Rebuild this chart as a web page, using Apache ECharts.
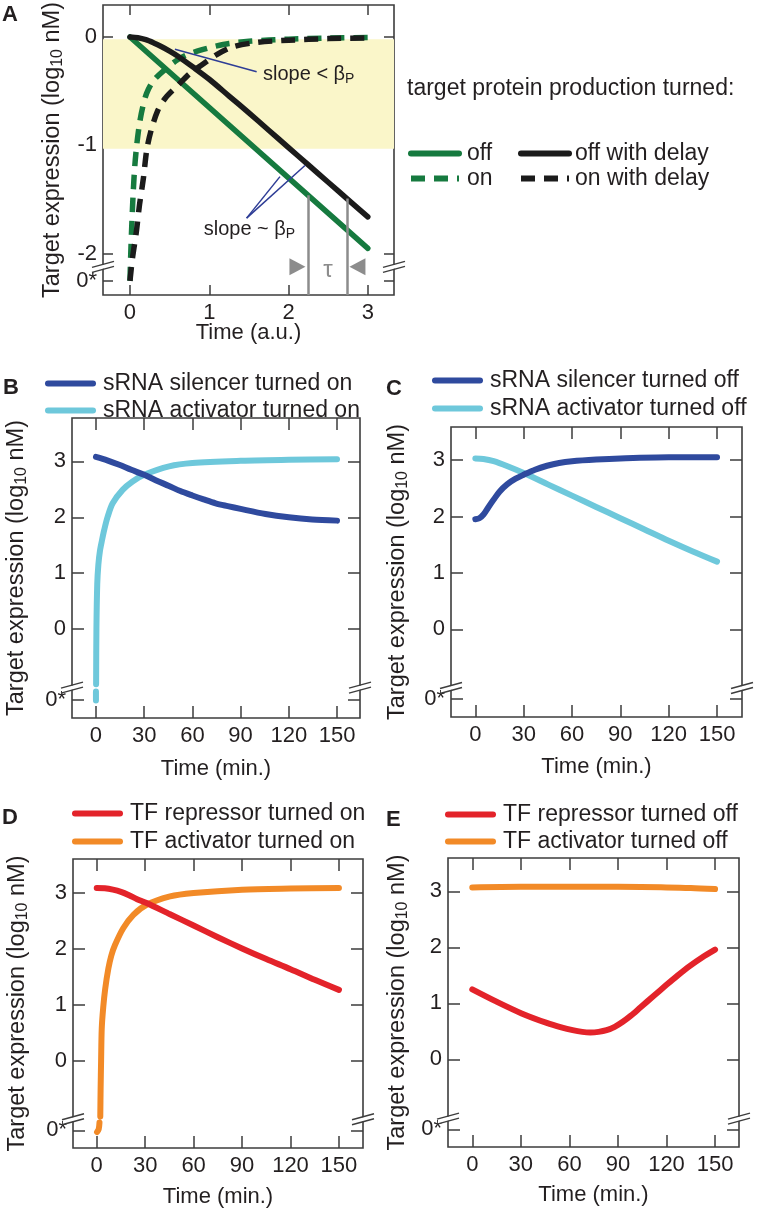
<!DOCTYPE html>
<html><head><meta charset="utf-8">
<script src="https://cdn.jsdelivr.net/npm/echarts@6/dist/echarts.min.js"></script>
<style>html,body{margin:0;padding:0;background:#fff}#c{width:760px;height:1215px}</style>
</head><body><div id="c"></div>
<script>
// ---------- DATA ----------
// Panel A (time in a.u., log10 expression; 0* drawn at -2.25)
const aXTicks = [0, 1, 2, 3];
const aYTicks = [-2.25, -2, -1, 0];
const aYStar = -2.25;
const aOff = [[0, 0], [3, -1.95]];
const aOffDelay = [[0,0],[0.1,-0.007],[0.2,-0.025],[0.3,-0.055],[0.4,-0.09],[0.5,-0.13],[0.6,-0.175],[0.8,-0.28],[1.0,-0.39],[1.25,-0.545],[1.5,-0.70],[1.75,-0.86],[2.0,-1.02],[2.25,-1.18],[2.5,-1.34],[2.75,-1.50],[3.0,-1.66]];
const aOn = [[0,-2.25],[0.01,-2.0],[0.025,-1.7],[0.04,-1.45],[0.06,-1.2],[0.085,-1.0],[0.12,-0.8],[0.16,-0.65],[0.21,-0.52],[0.3,-0.4],[0.46,-0.29],[0.6,-0.21],[0.72,-0.165],[0.9,-0.12],[1.05,-0.09],[1.25,-0.06],[1.5,-0.04],[2.0,-0.02],[2.5,-0.01],[3.0,-0.005]];
const aOnDelay = [[0,-2.25],[0.03,-2.05],[0.08,-1.8],[0.12,-1.55],[0.17,-1.3],[0.21,-1.05],[0.26,-0.88],[0.35,-0.68],[0.45,-0.56],[0.6,-0.45],[0.75,-0.34],[0.9,-0.26],[1.1,-0.16],[1.3,-0.09],[1.6,-0.05],[2.0,-0.03],[2.5,-0.015],[3.0,-0.01]];
const aBand = [-0.02, -1.03];
const aTauLines = [[2.245, -1.46], [2.74, -1.49]];
const aSlopeLt = [[0.567, -0.113], [1.598, -0.32]];
const aSlopeSim = [[[1.471, -1.671], [1.892, -1.288]], [[1.471, -1.671], [2.207, -1.186]]];
const aLabelLt = [1.678, -0.35];
const aLabelSim = [1.507, -1.78];
const aTriangles = [[2.112, -2.12], [2.869, -2.12]];
const aTauLabel = [2.497, -2.15];

// Panels B-E (time in minutes)
const minTicks = [0, 30, 60, 90, 120, 150];
const logTicks = [0, 1, 2, 3];
const bSilencerOn = [[0,3.08],[7,3.02],[14.5,2.94],[22,2.85],[30,2.76],[37.5,2.66],[45.5,2.56],[52.5,2.47],[60,2.39],[67,2.32],[74.5,2.25],[82,2.2],[90,2.15],[105.5,2.06],[120,2.0],[134.5,1.96],[150,1.94]];
const bActivatorOn = [[0,-1.28],[0,-1.12],[0.05,'-'],[0.1,-0.99],[0.3,0],[0.8,0.8],[1.5,1.15],[2.5,1.4],[3.7,1.58],[5.2,1.78],[7.3,2.01],[10.4,2.25],[16.6,2.49],[22.8,2.64],[30,2.76],[45.5,2.91],[60,2.97],[90,3.01],[120,3.03],[150,3.04]];
const cSilencerOff = [[0,1.95],[2.5,1.97],[5.2,2.04],[8,2.16],[11.4,2.30],[15,2.44],[19.7,2.57],[25,2.67],[30,2.74],[37,2.83],[44.5,2.9],[52,2.95],[60,2.98],[75,3.01],[90,3.03],[120,3.05],[150,3.05]];
const cActivatorOff = [[0,3.03],[5,3.02],[11.4,2.98],[20,2.89],[30,2.77],[45,2.57],[60,2.37],[75,2.17],[90,1.97],[105,1.77],[120,1.57],[135,1.38],[150,1.2]];
const dRepressorOn = [[0,3.09],[5,3.085],[10,3.06],[15,3.02],[20,2.96],[25,2.89],[30.9,2.82],[45.4,2.62],[60,2.42],[75,2.21],[90,2.01],[105,1.82],[120,1.64],[135,1.45],[150,1.27]];
const dActivatorOn = [[0.2,-1.27],[1.2,-1.22],[1.7,-1.1],[1.8,'-'],[2.2,-0.99],[2.4,-0.5],[2.7,0],[3.1,0.58],[4,0.95],[5.2,1.28],[7.2,1.65],[9,1.88],[11.3,2.07],[16.4,2.37],[22.7,2.61],[30.9,2.79],[45.4,2.94],[60,3.0],[90,3.06],[120,3.08],[150,3.09]];
const eRepressorOff = [[0,1.25],[15,1.03],[30.5,0.82],[46,0.65],[55,0.57],[62,0.52],[68,0.49],[73,0.48],[78,0.49],[83,0.52],[88,0.58],[93,0.67],[98,0.78],[104,0.93],[112,1.13],[120,1.33],[127,1.5],[134.5,1.67],[142,1.82],[150,1.96]];
const eActivatorOff = [[0,3.07],[30,3.08],[60,3.08],[90,3.08],[120,3.07],[135,3.06],[150,3.04]];

// ---------- STYLE ----------
const TXT = '#231f20', AX = '#3d3d3d';
const FONT = '"Liberation Sans", Arial, Helvetica, sans-serif';
const COL = {green:'#167a3f', black:'#1b1b1b', navy:'#2f4a9e', cyan:'#6ec8db', red:'#e3232a', orange:'#f28a27',
             ann:'#2e3d96', gray:'#8c8c8c', band:'#faf6c9'};

const panels = [
  {grid:{left:103,top:5,width:291,height:290}, x:[-0.34,3.33], y:[-2.38,0.295], xt:aXTicks, yt:aYTicks, star:aYStar, brk:-2.12, xName:'Time (a.u.)', xGap:27, yGap:37, tick:10},
  {grid:{left:72,top:418,width:288,height:300}, x:[-14.9,164.3], y:[-1.593,3.777], xt:minTicks, yt:[-1.27].concat(logTicks), star:-1.27, brk:-1.05, xName:'Time (min.)', xGap:40, yGap:42, tick:12},
  {grid:{left:451,top:427,width:291,height:290}, x:[-15.1,165.5], y:[-1.555,3.587], xt:minTicks, yt:[-1.24].concat(logTicks), star:-1.24, brk:-1.04, xName:'Time (min.)', xGap:39, yGap:40, tick:12},
  {grid:{left:73,top:859,width:290,height:289}, x:[-14.7,164.9], y:[-1.554,3.607], xt:minTicks, yt:[-1.24].concat(logTicks), star:-1.24, brk:-1.04, xName:'Time (min.)', xGap:38, yGap:42, tick:12},
  {grid:{left:448,top:858,width:291,height:289}, x:[-15,164.8], y:[-1.566,3.595], xt:minTicks, yt:[-1.25].concat(logTicks), star:-1.25, brk:-1.06, xName:'Time (min.)', xGap:37, yGap:37, tick:12}
];

const yName = '{a|Target expression (log}{s|10}{a| nM)}';
const richName = {a:{fontSize:23.5,color:TXT,fontFamily:FONT}, s:{fontSize:16,color:TXT,fontFamily:FONT,verticalAlign:'bottom',padding:[10,0,0,0]}};

const grids = [], xAxes = [], yAxes = [];
panels.forEach((p, i) => {
  grids.push(Object.assign({show:true, borderColor:AX, borderWidth:1.6, backgroundColor:'transparent', containLabel:false, outerBoundsMode:'none'}, p.grid));
  const tickX = {show:true, inside:true, length:p.tick, customValues:p.xt, lineStyle:{color:AX,width:1.5}};
  const tickY = {show:true, inside:true, length:p.tick, customValues:p.yt, lineStyle:{color:AX,width:1.5}};
  xAxes.push({gridIndex:i, type:'value', min:p.x[0], max:p.x[1], position:'bottom', axisLine:{show:false,onZero:false}, splitLine:{show:false},
    axisTick:tickX, axisLabel:{customValues:p.xt, margin:7, fontSize:22, color:TXT, fontFamily:FONT},
    name:p.xName, nameLocation:'middle', nameGap:p.xGap, nameMoveOverlap:false, nameTextStyle:{fontSize:22,color:TXT,fontFamily:FONT}});
  xAxes.push({gridIndex:i, type:'value', min:p.x[0], max:p.x[1], position:'top', axisLine:{show:false,onZero:false}, splitLine:{show:false},
    axisTick:tickX, axisLabel:{show:false}});
  yAxes.push({gridIndex:i, type:'value', min:p.y[0], max:p.y[1], position:'left', axisLine:{show:false,onZero:false}, splitLine:{show:false},
    axisTick:tickY, axisLabel:{customValues:p.yt, margin:6, fontSize:22, color:TXT, fontFamily:FONT,
      formatter: v => (Math.abs(v - p.star) < 1e-6 ? '0*' : String(v))},
    name:yName, nameLocation:'middle', nameRotate:90, nameGap:p.yGap, nameMoveOverlap:false,
    nameTextStyle:{fontSize:23.5,color:TXT,fontFamily:FONT,rich:richName}});
  yAxes.push({gridIndex:i, type:'value', min:p.y[0], max:p.y[1], position:'right', axisLine:{show:false,onZero:false}, splitLine:{show:false},
    axisTick:tickY, axisLabel:{show:false}});
});

function line(name, data, gi, color, width, extra) {
  return Object.assign({type:'line', name, data, xAxisIndex:2*gi, yAxisIndex:2*gi, symbol:'none', showSymbol:false,
    smooth:0.3, connectNulls:false, animation:false, emphasis:{disabled:true},
    lineStyle:{width, color, cap:'round', join:'round'}, itemStyle:{color}, z:3}, extra || {});
}
const dash = (name, data, color) => line(name, data, 0, color, 5.5, {lineStyle:{width:5.5, color, type:[14,9], cap:'butt', join:'round'}});

const noSym = ['none','none'];
const series = [
  line('off', aOff, 0, COL.green, 5.5, {smooth:false,
    markArea:{silent:true, itemStyle:{color:COL.band}, data:[[{yAxis:aBand[0]},{yAxis:aBand[1]}]]},
    markLine:{silent:true, symbol:noSym, label:{show:false}, animation:false,
      data: aTauLines.map(t => [{coord:[t[0], t[1]], lineStyle:{color:COL.gray,width:2.5,type:'solid'}}, {coord:[t[0], panels[0].y[0]]}])
        .concat([[{coord:aSlopeLt[0], lineStyle:{color:COL.ann,width:1.5,type:'solid'}},{coord:aSlopeLt[1]}]])
        .concat(aSlopeSim.map(s => [{coord:s[0], lineStyle:{color:COL.ann,width:1.5,type:'solid'}},{coord:s[1]}]))},
    markPoint:{silent:true, animation:false, label:{show:false}, itemStyle:{color:COL.gray},
      data:[{coord:aTriangles[0], symbol:'triangle', symbolSize:[17,16], symbolRotate:-90},
            {coord:aTriangles[1], symbol:'triangle', symbolSize:[17,16], symbolRotate:90}]}}),
  dash('on', aOn, COL.green),
  line('off with delay', aOffDelay, 0, COL.black, 5.5),
  dash('on with delay', aOnDelay, COL.black),
  line('sRNA activator turned on', bActivatorOn, 1, COL.cyan, 6),
  line('sRNA silencer turned on', bSilencerOn, 1, COL.navy, 6),
  line('sRNA activator turned off', cActivatorOff, 2, COL.cyan, 6),
  line('sRNA silencer turned off', cSilencerOff, 2, COL.navy, 6),
  line('TF activator turned on', dActivatorOn, 3, COL.orange, 6),
  line('TF repressor turned on', dRepressorOn, 3, COL.red, 6),
  line('TF activator turned off', eActivatorOff, 4, COL.orange, 6),
  line('TF repressor turned off', eRepressorOff, 4, COL.red, 6)
];

function legend(names, left, top, iw, gap, padLeft) {
  return {data:names, orient:'vertical', left, top, padding:0, itemWidth:iw, itemHeight:6, itemGap:gap, selectedMode:false,
    textStyle:{fontSize:23, color:TXT, fontFamily:FONT, padding:[0,0,0,padLeft]}, lineStyle:{width:6}, itemStyle:{opacity:0}};
}
const legends = [
  legend(['off','on'], 408, 142, 48, 2, 3),
  legend(['off with delay','on with delay'], 518, 142, 48, 2, 1),
  legend(['sRNA silencer turned on','sRNA activator turned on'], 45, 372, 45, 4, 5),
  legend(['sRNA silencer turned off','sRNA activator turned off'], 432, 369, 45, 5, 5),
  legend(['TF repressor turned on','TF activator turned on'], 72, 802, 45, 5, 5),
  legend(['TF repressor turned off','TF activator turned off'], 445, 803, 45, 4, 5)
];

const chart = echarts.init(document.getElementById('c'), null, {renderer:'canvas', width:760, height:1215});
chart.setOption({animation:false, backgroundColor:'#fff', textStyle:{fontFamily:FONT},
  grid:grids, xAxis:xAxes, yAxis:yAxes, series, legend:legends});

// ---------- annotations placed through the chart's own scales ----------
const P = (gi, v) => chart.convertToPixel({xAxisIndex:2*gi, yAxisIndex:2*gi}, v);
const g = [];
const txt = (x, y, text, font, fill, align, extra) => g.push(Object.assign({type:'text', x, y, z:50, silent:true,
  style:{text, font, fill:fill||TXT, align:align||'left', verticalAlign:'middle'}}, extra||{}));

// panel letters and the legend header
const letterFont = 'bold 22px ' + FONT;
txt(2, 15, 'A', letterFont); txt(3, 388, 'B', letterFont); txt(386, 389, 'C', letterFont);
txt(2, 818, 'D', letterFont); txt(386, 820, 'E', letterFont);
txt(407, 89, 'target protein production turned:', '23px ' + FONT);

// slope annotations in panel A
const richAnn = {a:{fontSize:20,fontFamily:FONT,fill:TXT}, s:{fontSize:14,fontFamily:FONT,fill:TXT,verticalAlign:'bottom',padding:[9,0,0,0]}};
let q = P(0, aLabelLt);
g.push({type:'text', x:q[0], y:q[1], z:50, silent:true, style:{text:'{a|slope < β}{s|P}', rich:richAnn, align:'left', verticalAlign:'middle', fill:TXT}});
q = P(0, aLabelSim);
g.push({type:'text', x:q[0], y:q[1], z:50, silent:true, style:{text:'{a|slope ~ β}{s|P}', rich:richAnn, align:'center', verticalAlign:'middle', fill:TXT}});
q = P(0, aTauLabel);
txt(q[0], q[1], 'τ', '24px ' + FONT, COL.gray, 'center');

// axis-break marks on both sides of each panel
panels.forEach((p, i) => {
  [p.x[0], p.x[1]].forEach(xv => {
    const c = P(i, [xv, p.brk]);
    const xx = c[0], yy = c[1];
    g.push({type:'polygon', z:60, silent:true, shape:{points:[[xx-10,yy+5],[xx+10,yy-1],[xx+10,yy-5],[xx-10,yy+1]]}, style:{fill:'#fff'}});
    g.push({type:'line', z:61, silent:true, shape:{x1:xx-11,y1:yy+5.5,x2:xx+11,y2:yy-0.5}, style:{stroke:AX,lineWidth:1.4}});
    g.push({type:'line', z:61, silent:true, shape:{x1:xx-11,y1:yy+0.5,x2:xx+11,y2:yy-5.5}, style:{stroke:AX,lineWidth:1.4}});
  });
});
chart.setOption({graphic:{elements:g}});
</script></body></html>
